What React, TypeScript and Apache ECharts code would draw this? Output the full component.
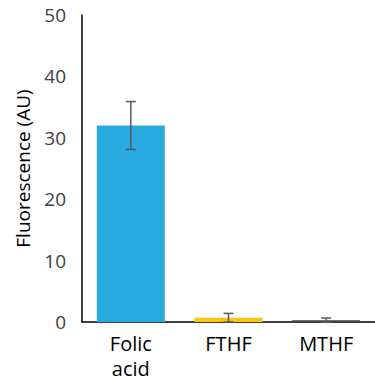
import React, { useEffect, useRef } from "react";
import * as echarts from "echarts";

const categories = ["Folic\nacid", "FTHF", "MTHF"];
const values = [32.0, 0.7, 0.3];
const errors = [3.9, 0.7, 0.35];
const barColors = ["#29ABE2", "#FFC20E", "#404040"];
const yTicks = { min: 0, max: 50, interval: 10 };

export default function App() {
  const ref = useRef<HTMLDivElement>(null);
  useEffect(() => {
    const chart = echarts.init(ref.current!, null, { renderer: "svg" });
    const font = "'Open Sans', 'DejaVu Sans', sans-serif";
    chart.setOption({
      animation: false,
      grid: { left: 82, top: 15, width: 300, bottom: 58, containLabel: false },
      xAxis: {
        type: "category",
        data: categories,
        axisLine: { lineStyle: { color: "#000", width: 1.5 } },
        axisTick: { show: false },
        axisLabel: { color: "#000", fontSize: 20, fontFamily: font, margin: 9, lineHeight: 25 },
      },
      yAxis: {
        type: "value",
        min: yTicks.min,
        max: yTicks.max,
        interval: yTicks.interval,
        name: "Fluorescence (AU)",
        nameLocation: "middle",
        nameGap: 50,
        nameTextStyle: { color: "#000", fontSize: 19, fontFamily: font },
        axisLine: { show: true, lineStyle: { color: "#000", width: 1.5 } },
        axisTick: { show: false },
        splitLine: { show: false },
        axisLabel: { color: "#404040", fontSize: 19, fontFamily: font, margin: 16 },
      },
      series: [
        {
          type: "bar",
          barWidth: 68,
          data: values.map((v, i) => ({ value: v, itemStyle: { color: barColors[i] } })),
        },
        {
          type: "custom",
          z: 10,
          data: values.map((v, i) => [i, v - errors[i], v + errors[i]]),
          renderItem: (params: any, api: any) => {
            const x = api.coord([api.value(0), 0])[0];
            const lo = api.coord([api.value(0), api.value(1)])[1];
            const hi = api.coord([api.value(0), api.value(2)])[1];
            const hw = 5;
            const style = { stroke: "#595959", lineWidth: 1.5, fill: "none" };
            return {
              type: "group",
              children: [
                { type: "line", shape: { x1: x, y1: lo, x2: x, y2: hi }, style },
                { type: "line", shape: { x1: x - hw, y1: hi, x2: x + hw, y2: hi }, style },
                { type: "line", shape: { x1: x - hw, y1: lo, x2: x + hw, y2: lo }, style },
              ],
            };
          },
        },
      ],
    });
    return () => chart.dispose();
  }, []);
  return <div ref={ref} style={{ width: 375, height: 381, position: "absolute", left: 0, top: 0 }} />;
}
